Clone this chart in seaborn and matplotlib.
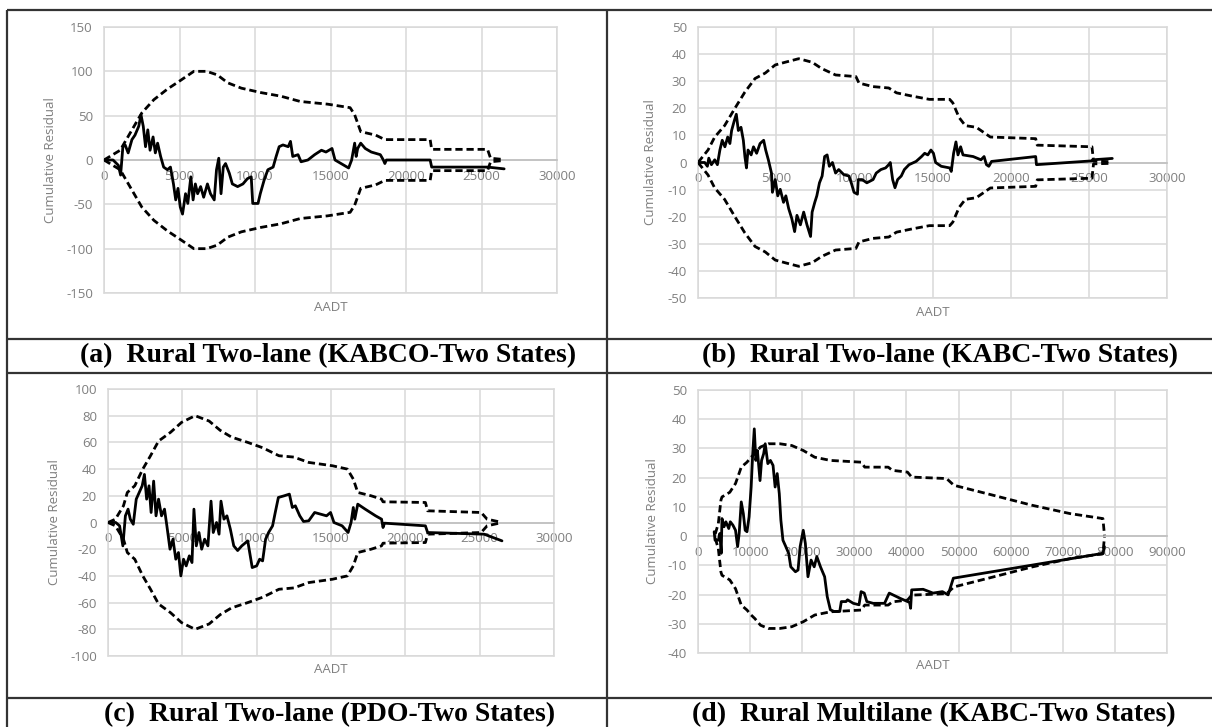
import numpy as np
import pandas as pd
import matplotlib
matplotlib.use("Agg")
import matplotlib.pyplot as plt
import seaborn as sns
from matplotlib.ticker import StrMethodFormatter

# ---------------- data ----------------
# (a) Rural Two-lane KABCO
a_x = [0,600,950,1100,1250,1400,1600,1850,2050,2300,2450,2600,2750,2900,3050,3250,3400,3550,3750,3950,
       4200,4400,4600,4750,4900,5050,5200,5400,5550,5750,5900,6050,6200,6400,6600,6850,7050,7300,7450,7600,
       7750,7900,8050,8300,8500,8850,9200,9500,9750,9850,10200,10350,10600,10850,11200,11400,11600,11850,12200,12350,
       12500,12850,13050,13500,13950,14400,14700,15100,15300,15700,16200,16400,16600,16700,16800,17000,17300,17700,18300,18500,
       18600,18700,21600,21700,25400,26500]
a_y = [0,0,-6,-17,15,17,8,23,28,38,51,38,15,34,11,26,8,19,4,-8,
       -11,-8,-27,-45,-32,-53,-61,-38,-49,-19,-45,-27,-38,-30,-42,-27,-38,-45,-11,2,
       -38,-8,-4,-15,-27,-30,-27,-21,-19,-49,-49,-38,-23,-11,-8,4,15,17,15,21,
       4,6,-2,0,6,11,9,13,0,-4,-9,0,19,4,13,19,13,9,6,0,
       -4,0,0,-8,-8,-10]
a_ex = [0,1070,2500,3300,4200,5000,5950,6800,7500,8200,9100,10400,11700,13000,14800,16300,16600,17000,18000,18600,
        21600,21700,25400,25600,26500]
a_env = [0,11,53,68,80,89,100,100,96,87,81,76,72,66,63,59,51,32,28,23,
         23,12,12,2,0.5]

# (b) Rural Two-lane KABC
b_x = [0,430,600,690,860,1070,1240,1400,1550,1720,1900,2040,2150,2320,2450,2580,2750,2900,3000,3100,
       3200,3400,3550,3750,3970,4200,4330,4500,4700,4760,4940,5100,5260,5470,5620,5800,6000,6180,6330,6550,
       6760,6970,7200,7300,7470,7600,7770,7940,8100,8260,8400,8600,8800,9000,9330,9660,9830,9980,10200,10250,
       10500,10800,11200,11400,11700,12000,12200,12300,12450,12600,12770,13000,13200,13500,13950,14300,14500,14700,14900,15060,
       15200,15560,16100,16200,16350,16500,16630,16800,16950,17600,18100,18300,18450,18600,18780,21600,21650,25200,25250,26500]
b_y = [0,0,-1.4,1.6,-0.8,1,-0.8,4.6,8.2,5.8,9.4,7,11.8,15.4,17.8,11.8,13,8.2,2.2,-2,
       4.6,2.8,5.8,3.4,7,8.2,4.6,1,-3.9,-11,-6.3,-12.3,-9.9,-14.7,-12.3,-17,-20.7,-25.5,-19.5,-23,
       -18.3,-23,-27.3,-18.3,-14.7,-12.3,-7.5,-5,2.2,2.8,-1.4,0,-3.9,-2.6,-4.5,-5,-8,-11,-11.7,-6.3,
       -6.3,-7.5,-6.3,-3.9,-2.6,-2,-0.8,0,-6.3,-9.3,-6.3,-5,-2.6,-0.8,0.4,2.2,3.4,2.8,4.6,3.4,
       0,-1.4,-2,-3.3,3.4,7.6,2.8,5.8,2.8,2.2,1,2.2,-0.8,-1.4,0.4,2.2,-0.8,0.6,1.0,1.5]
b_ex = [0,640,1070,1700,2360,3000,3650,4300,4940,5580,6440,7300,7900,8800,10100,10300,11200,12200,12700,13700,
        14800,16100,16300,16700,17100,17800,18100,18700,21600,21700,25200,25300,26500]
b_env = [0,4.6,9.4,13.6,20,26,31,33,36,37,38.3,37,34.7,32.3,31.7,29.3,28,27.5,25.7,24.5,
         23.3,23.3,22,16.6,13.6,13,11.8,9.4,8.8,6.4,5.8,0.5,0.3]

# (c) Rural Two-lane PDO
c_x = [0,520,780,1000,1170,1350,1500,1700,1900,2100,2300,2450,2600,2760,2900,3070,3230,3400,3600,3800,
       3960,4170,4370,4560,4740,4900,5080,5260,5470,5650,5780,5940,6120,6300,6500,6720,6930,7080,7300,7470,
       7600,7800,8000,8230,8460,8720,9000,9400,9700,10000,10200,10400,10600,10800,11070,11250,11460,11850,12200,12400,
       12600,12900,13150,13500,13900,14300,14700,14970,15200,15750,16150,16350,16500,16600,16800,17300,18000,18400,18500,18600,
       21350,21500,25300,26500]
c_y = [0,0,-2.5,-17.5,5,10,2.5,-1.3,17.5,22.5,27.5,36,17.5,27.5,7.5,31,5,17.5,5,10,
       -2.5,-20,-12.5,-27.5,-22.5,-40,-27.5,-32.5,-25,-30,10,-17.5,-7.5,-20,-12.5,-17.5,16,-7.5,0,-8.75,
       16,2.5,5,-5,-17.5,-21,-17.5,-13.75,-33.75,-32.5,-27.5,-28.75,-12.5,-7.5,-2.5,7.5,18.75,20,21.25,11.25,
       12.5,5,0.75,1.25,7.5,6.25,5,7.5,0,-2.5,-7.5,0,11.25,2.5,13.75,10,5,2.5,-3.75,-0.5,
       -2.5,-7.5,-8.75,-13.75]
c_ex = [0,500,1040,1300,1800,2340,2860,3400,4200,4950,5860,6800,7550,8300,9400,10400,11500,12500,13500,15100,
        16100,16500,16800,17700,18400,18500,21350,21500,25100,25500,26400]
c_env = [0,2.5,12.5,22.5,27.5,40,50,61,67.5,75,80,76,69,64,60,56,50,49,45,42.5,
         40,32.5,22.5,20,17.5,15.5,15,8.75,7.5,2.5,0.3]

# (d) Rural Multilane KABC
d_x = [3100,3270,3900,4200,4450,4600,5000,5350,5900,6200,6700,7200,7600,7900,8300,8700,9050,9400,9800,10200,
       10500,10800,11100,11400,11900,12200,12600,12900,13400,13900,14400,14800,15200,15600,15900,16300,16850,17400,17800,18700,
       19200,19600,20200,20600,21100,21700,22300,22800,23500,24300,24800,25400,26100,27200,27500,28400,28700,29800,30900,31300,
       31900,32400,33600,35800,36700,38800,40600,40800,41000,43200,45100,46900,48000,49000,77700,78000]
d_y = [1.5,-1.4,-1.4,0.9,-5.9,6,3.2,4.9,2.6,4.9,3.75,2,-3.6,0.9,11.7,7.7,2,1.5,6.6,16.8,
       28.2,36.7,25.9,29.3,19,25.9,28.2,31.6,24.8,25.9,24.2,16.8,21.4,14.5,5.5,-1.4,-3.6,-5.9,-10.5,-12.2,
       -11.6,-3.6,2,-2.5,-13.9,-8.2,-10.5,-7,-10.5,-13.9,-20.7,-25.2,-25.8,-25.8,-22.4,-22.4,-21.8,-23,-23.5,-19,
       -19.5,-22.4,-23,-23,-19.5,-21.3,-22.7,-24.7,-18.4,-18.2,-19.5,-19,-20.1,-14.4,-5.9,-3.6]
d_ex = [3300,3900,4400,4600,6100,7200,8300,9400,10200,10900,12000,13500,15700,18000,20200,22400,25400,31300,32000,36500,
        37300,40200,41000,47700,49100,56600,64000,71400,77700,78000]
d_env = [0.7,4.3,12.3,13.4,15,18,23.6,25.3,27,28.2,30.5,31.6,31.6,31,29.3,27,25.9,25.3,23.6,23.6,
         22.5,21.9,20.2,19.7,17.4,14,10.6,7.7,6,0.3]

captions = ["(a)  Rural Two-lane (KABCO-Two States)",
            "(b)  Rural Two-lane (KABC-Two States)",
            "(c)  Rural Two-lane (PDO-Two States)",
            "(d)  Rural Multilane (KABC-Two States)"]
x_label = "AADT"
y_label = "Cumulative Residual"

# ---------------- style ----------------
sns.set_theme(style="white")
plt.rcParams['font.family'] = ['Open Sans', 'DejaVu Sans']
plt.rcParams['axes.unicode_minus'] = False

W, H = 1212, 727
fig = plt.figure(figsize=(W / 100, H / 100), dpi=100)
fig.patch.set_facecolor('white')

GRID = '#d9d9d9'
TXT = '#7f7f7f'
FS = 9.5


def px_axes(l, r, t, b):
    return fig.add_axes([l / W, 1 - b / H, (r - l) / W, (b - t) / H])


def draw(ax, xs, ys, xe, env, xlim, ylim, xstep, ystep, ylab_x, xlab_y):
    env = np.asarray(env, dtype=float)
    df_s = pd.DataFrame({'AADT': xs, 'res': ys})
    df_u = pd.DataFrame({'AADT': xe, 'res': env})
    df_l = pd.DataFrame({'AADT': xe, 'res': -env})
    for df in (df_u, df_l):
        sns.lineplot(data=df, x='AADT', y='res', ax=ax, color='black', lw=2.0,
                     linestyle=(0, (2.6, 1.4)), estimator=None, sort=False, zorder=3)
    sns.lineplot(data=df_s, x='AADT', y='res', ax=ax, color='black', lw=2.0,
                 estimator=None, sort=False, zorder=4)
    ax.set_xlim(*xlim)
    ax.set_ylim(*ylim)
    ax.set_xticks(np.arange(xlim[0], xlim[1] + 1, xstep))
    ax.set_yticks(np.arange(ylim[0], ylim[1] + 1, ystep))
    ax.xaxis.set_major_formatter(StrMethodFormatter('{x:.0f}'))
    ax.yaxis.set_major_formatter(StrMethodFormatter('{x:.0f}'))
    ax.grid(True, color=GRID, lw=1.1)
    ax.set_axisbelow(True)
    for s in ['top', 'right', 'left']:
        ax.spines[s].set_color(GRID)
        ax.spines[s].set_linewidth(1.1)
    ax.spines['bottom'].set_position(('data', 0))
    ax.spines['bottom'].set_color('#bfbfbf')
    ax.spines['bottom'].set_linewidth(1.2)
    ax.axhline(ylim[0], color=GRID, lw=1.1, clip_on=False, zorder=0)
    ax.tick_params(length=0, labelsize=FS, labelcolor=TXT)
    ax.tick_params(axis='x', pad=7)
    ax.tick_params(axis='y', pad=8)
    ax.set_xlabel(x_label, fontsize=FS, color=TXT)
    ax.set_ylabel(y_label, fontsize=FS, color=TXT)
    ax.xaxis.label.set_va('center')
    ax.yaxis.label.set_va('center')
    ax.xaxis.set_label_coords(0.5, xlab_y)
    ax.yaxis.set_label_coords(ylab_x, 0.5)


ax_a = px_axes(104, 557, 27, 293)
draw(ax_a, a_x, a_y, a_ex, a_env, (0, 30000), (-150, 150), 5000, 50, -0.117, -0.056)
ax_b = px_axes(698, 1167, 27, 298)
draw(ax_b, b_x, b_y, b_ex, b_env, (0, 30000), (-50, 50), 5000, 10, -0.102, -0.052)
ax_c = px_axes(108, 554, 389, 656)
draw(ax_c, c_x, c_y, c_ex, c_env, (0, 30000), (-100, 100), 5000, 20, -0.121, -0.049)
ax_d = px_axes(698, 1167, 390, 653)
draw(ax_d, d_x, d_y, d_ex, d_env, (0, 90000), (-40, 50), 10000, 10, -0.098, -0.046)

# ---------------- table frame & captions ----------------
ov = fig.add_axes([0, 0, 1, 1], zorder=10)
ov.set_xlim(0, W)
ov.set_ylim(H, 0)
ov.axis('off')
ov.patch.set_alpha(0)
LC = '#333333'
for (x0, x1, y0, y1) in [(7, W, 10, 10), (7, W, 339, 339), (7, W, 373, 373), (7, W, 698, 698),
                         (7, 7, 10, H), (607, 607, 10, H)]:
    ov.plot([x0, x1], [y0, y1], color=LC, lw=1.6, solid_capstyle='butt')

cap_pos = [(328, 356), (940, 356), (330, 715), (934, 715)]
for txt, (cx, cy) in zip(captions, cap_pos):
    ov.text(cx, cy, txt, ha='center', va='center', fontsize=20, fontweight='bold',
            family=['Liberation Serif', 'DejaVu Serif'], color='black')

fig.savefig('out.png', dpi=100, facecolor='white')
